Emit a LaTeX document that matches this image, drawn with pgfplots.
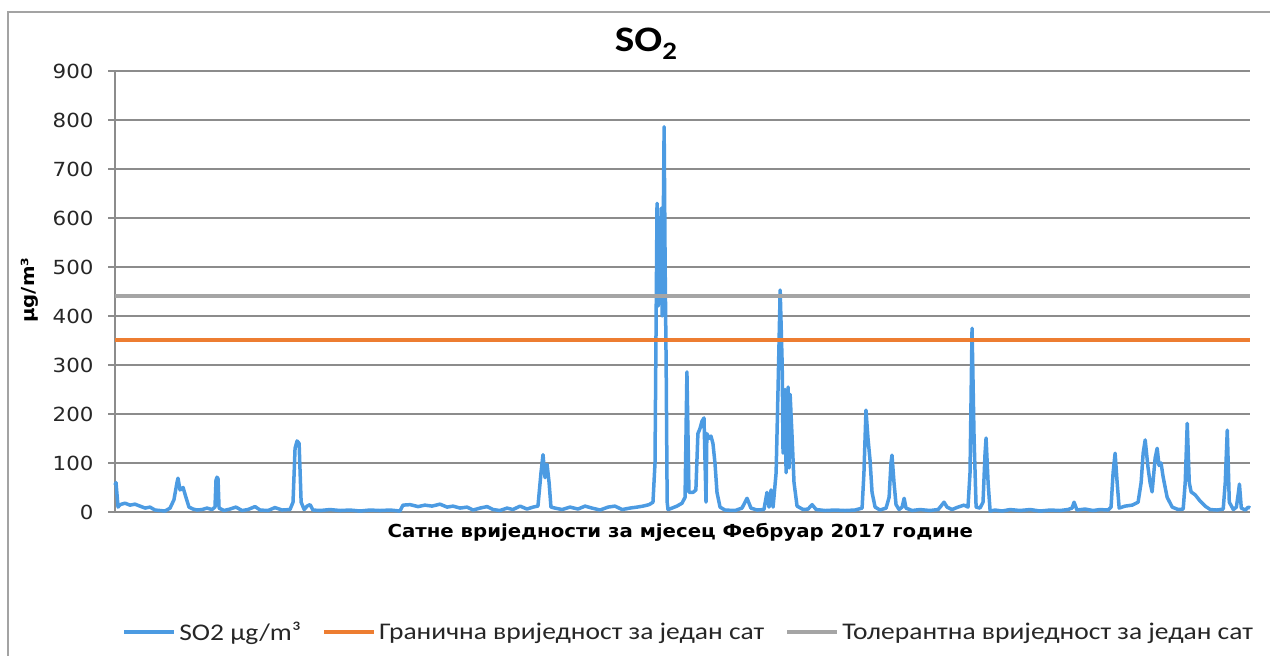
\documentclass[border=0pt]{standalone}
\usepackage{fontspec}
\setmainfont{Carlito}[FakeStretch=1.15]
\newfontfamily\dejavu{DejaVu Sans}[FakeStretch=1.1]
\usepackage{pgfplots}
\pgfplotsset{compat=1.18}
\definecolor{so2blue}{HTML}{4C9BE2}
\definecolor{limorange}{HTML}{ED7D31}
\definecolor{tolgray}{HTML}{A5A5A5}
\definecolor{gridgray}{HTML}{8C8C8C}
\begin{document}
\begin{tikzpicture}[x=1bp,y=1bp]
\path[use as bounding box] (0,0) rectangle (1270,656);
\draw[gridgray!80, line width=1.2bp] (8,0) -- (8,644) -- (1270,644);
\begin{axis}[
  at={(115bp,144bp)}, anchor=south west,
  width=1135bp, height=441bp, scale only axis,
  xmin=0, xmax=672, ymin=0, ymax=900,
  ytick={0,100,...,900}, xtick=\empty,
  axis y line*=left, axis x line*=bottom,
  axis line style={gridgray, line width=1.5bp, -},
  ymajorgrids, grid style={gridgray, line width=1.5bp},
  major tick length=7bp, tick align=outside,
  ytick style={gridgray, line width=1.5bp},
  /pgf/number format/assume math mode=true,
  yticklabel style={font=\dejavu\fontsize{19.5}{19.5}\selectfont, text=black!85, xshift=-11bp},
  xlabel={Сатне вриједности  за мјесец Фебруар  2017 године},
  xlabel style={at={(axis description cs:0.498,0)}, anchor=center, yshift=-20bp, font=\dejavu\bfseries\fontsize{18}{18}\selectfont},
  ylabel={µg/m³},
  ylabel style={at={(axis description cs:-0.075,0.503)}, anchor=center, font=\dejavu\bfseries\fontsize{18}{18}\selectfont},
  title={\textbf{SO\textsubscript{2}}},
  title style={at={(axis description cs:0.468,1.048)}, anchor=center, font=\fontsize{36}{36}\selectfont},
  legend columns=3,
  legend style={at={(axis description cs:0.505,-0.272)}, anchor=center, draw=none, fill=none,
    font=\fontsize{24}{24}\selectfont, text=black!85,
    nodes={inner xsep=1bp},
    /tikz/every odd column/.append style={column sep=2bp},
    /tikz/every even column/.append style={column sep=20bp}},
  legend image code/.code={\draw[#1, line width=4bp] (0bp,0bp) -- (50bp,0bp);},
  clip=false,
]
\addplot[so2blue, line width=3.5bp, line join=round] table {
0 55
0.6 60
1.8 10
3 15
5.9 18
8.9 14
11.8 16
14.8 12
17.8 8
20.7 10
23.7 4
26.6 3
29.6 2
32.6 8
34.9 25
36.7 60
37.3 69
38.5 45
40.3 50
42 30
43.8 10
46.2 6
48.5 4
51.5 5
54.5 8
57.4 5
59.2 10
59.8 65
60.4 71
61 68
61.6 8
64.5 3
68.1 6
71.6 10
75.2 3
78.7 5
82.9 11
85.9 4
90.6 3
94.7 9
98.9 4
103.6 5
105.4 20
106.6 130
107.8 145
109 140
110.2 20
112 5
113.7 12
115.5 15
117.2 4
121.4 3
127.3 5
133.2 3
139.1 4
145 2
151 4
156.9 3
162.8 4
168.7 2
170.5 14
174.7 15
179.4 11
183.5 14
187.7 12
192.4 16
196.6 10
200.1 12
204.3 8
208.4 10
212 4
216.1 8
220.3 11
223.8 5
227.9 3
232.1 8
235.6 5
239.8 12
243.9 6
247.5 10
250.4 12
252.2 80
253.4 117
254.6 70
255.8 97
257 60
258.1 10
260.5 8
264.7 5
269.4 10
274.1 6
278.3 12
282.4 8
287.2 4
291.9 10
296 12
300.2 5
304.9 8
309.1 10
312.6 12
316.2 15
318.5 20
319.7 100
320.9 630
321.5 420
322.1 600
322.7 430
323.3 620
323.9 400
324.5 560
325.1 786
325.7 500
326.3 300
326.9 20
327.4 5
329.8 8
332.7 12
335.7 18
337.5 30
338.6 286
339.8 40
342.2 40
343.9 45
345.1 160
346.3 170
347.5 185
348.7 192
349.9 20
350.4 160
351.6 150
352.8 155
354 140
355.2 100
356.4 40
358.2 10
361.1 4
367.1 3
371.2 8
374.2 28
376.5 8
380.1 4
384.2 5
386 40
387.2 10
388.4 45
389.6 10
391.4 80
392.6 260
393.8 453
395 300
395.5 120
396.7 250
397.3 80
398.5 255
399.1 90
399.7 240
400.9 150
402 60
403.8 12
407.4 5
410.3 6
412.7 15
415.1 5
420.4 3
426.3 4
432.2 3
438.1 4
442.3 8
443.4 80
444.6 208
445.8 150
447 106
448.2 40
450 10
452.9 4
456.5 8
458.3 30
459.4 100
460 116
461.2 60
462.4 15
464.2 5
466 10
467.2 28
468.3 8
471.9 3
476.6 5
482.5 3
487.3 5
489 12
490.8 20
492.6 10
495.5 5
499.1 10
502.6 14
505 10
506.2 80
507.4 375
508.6 150
509.8 10
512.1 8
513.9 20
515.1 120
515.7 151
516.9 60
518.1 2
521 4
525.2 2
529.9 5
535.8 3
541.7 5
547.7 2
553.6 4
559.5 3
564.2 5
566.6 8
567.8 20
569.5 4
574.3 6
579 3
583.2 5
587.9 4
589.7 10
590.9 80
592.1 120
593.3 60
594.5 8
598 12
602.2 14
605.7 20
607.5 60
608.7 120
609.9 147
611.6 90
612.8 60
614 41
615.8 110
617 130
618.1 95
619.3 100
620.5 72
622.9 30
625.9 10
629.4 5
632.4 6
633.6 60
634.8 181
636 60
637.1 41
639.5 35
642.5 22
645.4 12
648.4 5
652.5 4
656.1 6
657.3 60
658.5 167
659.7 20
662.1 5
663.9 10
665.1 40
665.7 57
666.8 8
669.2 4
671 10
672 8
};
\addlegendentry{SO2 µg/m³}
\addplot[limorange, line width=4bp] table {
0 350
672 350
};
\addlegendentry{Гранична вриједност за један сат}
\addplot[tolgray, line width=4bp] table {
0 440
672 440
};
\addlegendentry{Толерантна вриједност за један сат}
\end{axis}
\end{tikzpicture}
\end{document}
